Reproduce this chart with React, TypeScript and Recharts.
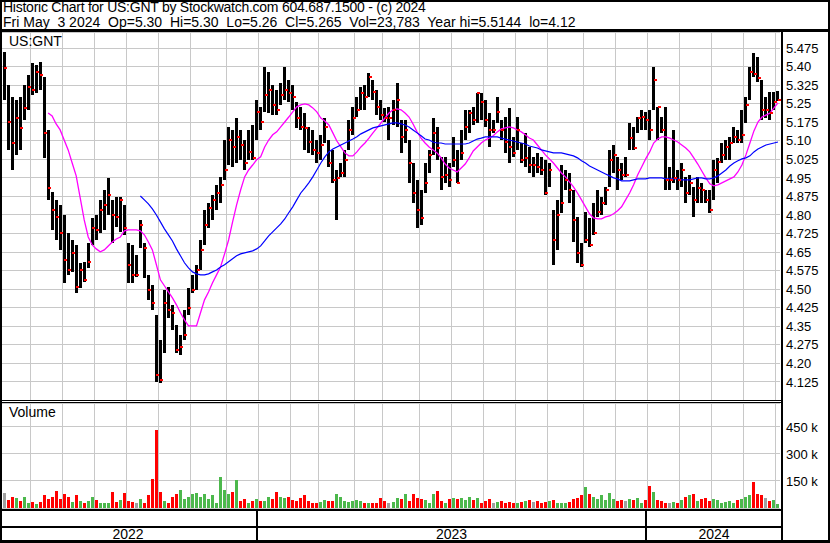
import React from 'react'
import { ComposedChart, BarChart, Bar, Line, Scatter, XAxis, YAxis, CartesianGrid, ReferenceLine } from 'recharts'

const FONT = '"Liberation Sans", Arial, sans-serif'
const GRID = '#c8c8c8'

// one slot = roughly two trading days, May 2022 -> May 3 2024
const hi = [
  5.459, 5.326, 5.277, 5.265, 5.277, 5.326, 5.366, 5.415, 5.406, 5.419,
  5.358, 5.144, 4.893, 4.861, 4.841, 4.800, 4.728, 4.699, 4.679, 4.607,
  4.611, 4.687, 4.788, 4.800, 4.861, 4.901, 4.950, 4.861, 4.873, 4.873,
  4.841, 4.687, 4.679, 4.639, 4.780, 4.687, 4.558, 4.518, 4.396, 4.295,
  4.497, 4.510, 4.437, 4.356, 4.316, 4.417, 4.505, 4.558, 4.599, 4.699,
  4.821, 4.849, 4.881, 4.922, 4.954, 5.103, 5.156, 5.144, 5.192, 5.144,
  5.103, 5.144, 5.164, 5.265, 5.237, 5.398, 5.378, 5.326, 5.305, 5.334,
  5.398, 5.346, 5.326, 5.257, 5.237, 5.212, 5.156, 5.144, 5.103, 5.124,
  5.192, 5.103, 5.063, 4.982, 5.010, 5.063, 5.184, 5.237, 5.277, 5.318,
  5.326, 5.374, 5.346, 5.305, 5.265, 5.233, 5.237, 5.265, 5.334, 5.184,
  5.184, 5.103, 5.010, 4.942, 4.901, 5.010, 5.063, 5.192, 5.156, 5.035,
  5.035, 5.010, 5.116, 5.063, 5.144, 5.225, 5.225, 5.237, 5.293, 5.293,
  5.265, 5.212, 5.184, 5.277, 5.184, 5.196, 5.233, 5.116, 5.196, 5.091,
  5.132, 5.075, 5.035, 5.051, 5.035, 5.023, 5.010, 4.821, 4.861, 5.002,
  4.982, 4.970, 4.901, 4.792, 4.687, 4.813, 4.788, 4.849, 4.901, 4.873,
  4.914, 5.063, 5.083, 5.035, 5.010, 5.035, 5.172, 5.156, 5.196, 5.225,
  5.217, 5.225, 5.398, 5.237, 5.196, 5.237, 4.994, 5.144, 4.982, 5.010,
  4.954, 4.962, 4.914, 4.954, 4.930, 4.901, 4.901, 5.023, 5.031, 5.091,
  5.103, 5.116, 5.156, 5.144, 5.225, 5.277, 5.398, 5.455, 5.439, 5.346,
  5.277, 5.297, 5.297, 5.30,
]

const lo = [
  5.265, 5.063, 4.982, 5.043, 5.063, 5.184, 5.225, 5.285, 5.293, 5.305,
  5.031, 4.861, 4.740, 4.699, 4.659, 4.526, 4.558, 4.570, 4.485, 4.505,
  4.530, 4.586, 4.679, 4.699, 4.728, 4.740, 4.800, 4.687, 4.752, 4.732,
  4.720, 4.526, 4.526, 4.550, 4.667, 4.546, 4.457, 4.417, 4.126, 4.122,
  4.243, 4.384, 4.336, 4.243, 4.235, 4.295, 4.396, 4.485, 4.497, 4.578,
  4.679, 4.748, 4.780, 4.821, 4.849, 4.942, 5.002, 4.994, 5.010, 5.023,
  4.982, 5.023, 5.023, 5.103, 5.144, 5.217, 5.212, 5.204, 5.204, 5.245,
  5.265, 5.257, 5.225, 5.152, 5.144, 5.063, 5.051, 5.043, 5.010, 5.023,
  5.091, 4.994, 4.930, 4.780, 4.954, 4.954, 5.063, 5.124, 5.196, 5.225,
  5.225, 5.277, 5.265, 5.204, 5.184, 5.176, 5.103, 5.164, 5.156, 5.051,
  5.091, 4.930, 4.849, 4.748, 4.760, 4.889, 4.970, 5.043, 5.023, 4.901,
  4.930, 4.914, 4.994, 4.930, 5.023, 5.103, 5.132, 5.164, 5.172, 5.184,
  5.156, 5.075, 5.132, 5.172, 5.103, 5.051, 5.010, 5.035, 5.063, 5.010,
  4.994, 4.970, 4.954, 4.970, 4.962, 4.881, 4.914, 4.599, 4.659, 4.809,
  4.901, 4.849, 4.691, 4.607, 4.590, 4.687, 4.671, 4.720, 4.792, 4.800,
  4.841, 4.914, 4.970, 4.901, 4.942, 4.954, 5.063, 5.063, 5.132, 5.144,
  5.144, 5.103, 5.225, 5.103, 5.132, 4.901, 4.901, 4.930, 4.901, 4.914,
  4.849, 4.881, 4.792, 4.849, 4.849, 4.849, 4.809, 4.861, 4.930, 5.010,
  5.023, 5.023, 5.091, 5.091, 5.091, 5.172, 5.265, 5.358, 5.338, 5.184,
  5.192, 5.184, 5.225, 5.26,
]

const close = [
  5.394, 5.176, 5.091, 5.192, 5.152, 5.233, 5.318, 5.305, 5.378, 5.366,
  5.132, 4.909, 4.821, 4.792, 4.728, 4.619, 4.578, 4.647, 4.510, 4.578,
  4.538, 4.611, 4.748, 4.740, 4.821, 4.841, 4.881, 4.800, 4.792, 4.861,
  4.748, 4.599, 4.558, 4.558, 4.760, 4.667, 4.497, 4.445, 4.154, 4.134,
  4.445, 4.417, 4.405, 4.255, 4.267, 4.316, 4.425, 4.497, 4.578, 4.659,
  4.760, 4.829, 4.861, 4.889, 4.922, 4.982, 5.103, 5.075, 5.116, 5.083,
  5.010, 5.055, 5.031, 5.217, 5.176, 5.285, 5.305, 5.245, 5.225, 5.285,
  5.305, 5.293, 5.277, 5.192, 5.156, 5.152, 5.095, 5.063, 5.051, 5.083,
  5.156, 5.010, 4.942, 4.950, 4.970, 5.023, 5.144, 5.192, 5.225, 5.293,
  5.277, 5.358, 5.297, 5.237, 5.204, 5.192, 5.192, 5.225, 5.265, 5.116,
  5.144, 5.010, 4.889, 4.821, 4.788, 4.930, 5.043, 5.132, 5.071, 4.954,
  4.962, 4.942, 5.023, 4.930, 5.051, 5.156, 5.212, 5.184, 5.293, 5.257,
  5.184, 5.144, 5.144, 5.217, 5.144, 5.095, 5.075, 5.051, 5.144, 5.023,
  5.031, 5.002, 5.002, 4.994, 4.982, 4.889, 4.982, 4.699, 4.800, 4.849,
  4.942, 4.901, 4.780, 4.647, 4.599, 4.699, 4.679, 4.728, 4.813, 4.849,
  4.901, 5.023, 5.043, 4.982, 4.962, 4.962, 5.111, 5.071, 5.192, 5.196,
  5.184, 5.144, 5.346, 5.237, 5.144, 4.942, 4.942, 4.950, 4.942, 4.982,
  4.889, 4.930, 4.861, 4.909, 4.901, 4.861, 4.821, 4.982, 5.015, 5.043,
  5.075, 5.091, 5.116, 5.103, 5.124, 5.245, 5.378, 5.37, 5.354, 5.225,
  5.225, 5.212, 5.257, 5.265,
]

// short moving average (magenta)
const maShort = [
  null, null, null, null, null, null, null, null, null, null, null,
  5.212, 5.200, 5.168, 5.144, 5.103, 5.063, 5.010, 4.958, 4.869, 4.780,
  4.711, 4.679, 4.663, 4.651, 4.659, 4.675, 4.691, 4.703, 4.711, 4.736,
  4.740, 4.740, 4.740, 4.736, 4.720, 4.691, 4.659, 4.599, 4.538, 4.514,
  4.489, 4.465, 4.437, 4.405, 4.376, 4.352, 4.352, 4.352, 4.405, 4.457,
  4.489, 4.526, 4.558, 4.590, 4.643, 4.699, 4.772, 4.841, 4.901, 4.954,
  4.982, 5.002, 5.023, 5.035, 5.075, 5.103, 5.124, 5.136, 5.156, 5.176,
  5.196, 5.217, 5.237, 5.245, 5.249, 5.245, 5.233, 5.217, 5.192, 5.180,
  5.164, 5.132, 5.099, 5.075, 5.051, 5.039, 5.039, 5.055, 5.075, 5.091,
  5.111, 5.132, 5.152, 5.172, 5.192, 5.212, 5.225, 5.229, 5.225, 5.212,
  5.196, 5.168, 5.136, 5.111, 5.091, 5.075, 5.063, 5.051, 5.031, 5.006,
  4.990, 4.982, 4.974, 4.990, 5.006, 5.031, 5.059, 5.075, 5.091, 5.103,
  5.111, 5.120, 5.136, 5.148, 5.152, 5.156, 5.152, 5.144, 5.136, 5.124,
  5.111, 5.103, 5.083, 5.063, 5.043, 5.027, 5.010, 4.990, 4.970, 4.954,
  4.934, 4.914, 4.889, 4.861, 4.833, 4.805, 4.788, 4.784, 4.784, 4.792,
  4.796, 4.805, 4.817, 4.833, 4.861, 4.889, 4.922, 4.962, 4.994, 5.027,
  5.055, 5.091, 5.107, 5.116, 5.116, 5.111, 5.103, 5.095, 5.083, 5.071,
  5.055, 5.031, 5.006, 4.978, 4.950, 4.926, 4.918, 4.922, 4.930, 4.938,
  4.946, 4.954, 4.974, 5.002, 5.043, 5.091, 5.140, 5.176, 5.196, 5.204,
  5.212, 5.233, 5.253,
]

// long moving average (blue)
const maLong = [
  null, null, null, null, null, null, null, null, null, null,
  null, null, null, null, null, null, null, null, null, null,
  null, null, null, null, null, null, null, null, null, null,
  null, null, null, null,
  4.877, 4.861, 4.845, 4.825, 4.800, 4.772, 4.744, 4.720, 4.695, 4.663,
  4.635, 4.607, 4.586, 4.570, 4.562, 4.558, 4.558, 4.562, 4.570, 4.578,
  4.590, 4.599, 4.611, 4.623, 4.635, 4.643, 4.647, 4.651, 4.655, 4.663,
  4.675, 4.695, 4.716, 4.732, 4.748, 4.764, 4.784, 4.809, 4.833, 4.861,
  4.889, 4.909, 4.930, 4.954, 4.982, 5.010, 5.035, 5.055, 5.067, 5.075,
  5.083, 5.091, 5.099, 5.107, 5.116, 5.128, 5.136, 5.144, 5.152, 5.156,
  5.160, 5.164, 5.168, 5.172, 5.172, 5.168, 5.164, 5.156, 5.144, 5.132,
  5.120, 5.107, 5.103, 5.095, 5.091, 5.091, 5.087, 5.087, 5.087, 5.087,
  5.087, 5.087, 5.091, 5.099, 5.107, 5.111, 5.116, 5.116, 5.116, 5.116,
  5.111, 5.107, 5.103, 5.099, 5.095, 5.091, 5.087, 5.079, 5.075, 5.071,
  5.063, 5.059, 5.055, 5.051, 5.051, 5.051, 5.047, 5.043, 5.039, 5.031,
  5.019, 5.010, 4.998, 4.990, 4.982, 4.974, 4.966, 4.958, 4.950, 4.946,
  4.938, 4.938, 4.938, 4.942, 4.946, 4.946, 4.946, 4.950, 4.950, 4.950,
  4.950, 4.946, 4.946, 4.946, 4.946, 4.942, 4.942, 4.942, 4.946, 4.950,
  4.950, 4.946, 4.946, 4.950, 4.958, 4.970, 4.982, 4.998, 5.010, 5.019,
  5.027, 5.031, 5.039, 5.055, 5.067, 5.075, 5.083, 5.087, 5.091, 5.095,
]

// volume in thousands of shares
const volK = [
  85, 45, 60, 55, 40, 60, 25, 35, 20, 35,
  70, 50, 60, 95, 50, 75, 60, 35, 70, 40,
  25, 40, 60, 45, 30, 25, 25, 90, 35, 45,
  85, 40, 35, 30, 50, 30, 70, 160, 433, 90,
  40, 30, 60, 80, 100, 50, 60, 80, 85, 60,
  80, 50, 70, 30, 170, 100, 80, 90, 155, 40,
  50, 30, 40, 50, 40, 40, 60, 50, 90, 60,
  55, 60, 45, 40, 55, 70, 40, 25, 30, 35,
  45, 40, 40, 75, 60, 40, 35, 40, 45, 40,
  30, 25, 25, 30, 55, 40, 30, 35, 55, 50,
  75, 40, 80, 55, 50, 45, 30, 80, 95, 40,
  30, 50, 55, 50, 55, 45, 60, 45, 55, 30,
  40, 50, 25, 35, 40, 30, 35, 30, 25, 35,
  40, 45, 35, 40, 30, 35, 40, 45, 30, 25,
  30, 35, 50, 55, 70, 115, 80, 60, 50, 70,
  45, 85, 50, 40, 45, 40, 50, 45, 55, 30,
  45, 120, 90, 45, 40, 30, 25, 35, 30, 45,
  60, 70, 80, 40, 50, 55, 40, 50, 45, 30,
  35, 40, 30, 45, 50, 60, 70, 145, 80, 70,
  55, 40, 45, 24,
]

// slots where a new month starts (Jun 2022 ... May 2024)
const monthStarts = [7, 15, 23, 31, 39, 47, 56, 64, 72, 79, 88, 95, 104, 112, 120, 128, 136, 145, 153, 161, 169, 177, 185, 193]

const priceTicks = [4.125, 4.2, 4.275, 4.35, 4.425, 4.5, 4.575, 4.65, 4.725, 4.8, 4.875, 4.95, 5.025, 5.1, 5.175, 5.25, 5.325, 5.4, 5.475]
const volTicks = [150000, 300000, 450000]

const years = [
  { label: '2022', left: 0, width: 256 },
  { label: '2023', left: 258, width: 387 },
  { label: '2024', left: 647, width: 134 },
]

const priceData = hi.map((h, i) => ({
  slot: i,
  range: [lo[i], h],
  close: close[i],
  maShort: maShort[i],
  maLong: maLong[i],
}))

const volData = volK.map((v, i) => {
  const prev = i > 0 ? close[i - 1] : close[i]
  const color = close[i] > prev ? '#4cb84c' : close[i] < prev ? '#ff0000' : '#a0a0a0'
  return { slot: i, vol: v * 1000, color }
})

const fmtPrice = (v: number) => (Math.round(v * 1000) % 10 === 0 ? v.toFixed(2) : v.toFixed(3))

const OhlcBar = (p: any) => {
  const top = Math.round(Math.min(p.y, p.y + p.height))
  const h = Math.max(Math.round(Math.abs(p.height)), 1)
  return <rect x={Math.round(p.x + p.width / 2 - 1.5)} y={top} width={3} height={h} fill="#000" shapeRendering="crispEdges" />
}

const CloseTick = (p: any) => (
  <rect x={Math.round(p.cx)} y={Math.round(p.cy - 1)} width={3} height={2} fill="#ff0000" shapeRendering="crispEdges" />
)

const VolBar = (p: any) => (
  <rect
    x={Math.round(p.x + p.width / 2 - 1.5)}
    y={Math.round(p.y)}
    width={3}
    height={Math.max(Math.round(p.height), 0)}
    fill={p.payload.color}
    shapeRendering="crispEdges"
  />
)

const line = (style: React.CSSProperties) => <div style={{ position: 'absolute', background: '#000', ...style }} />

const text: React.CSSProperties = { position: 'absolute', fontFamily: FONT, fontSize: 14, lineHeight: '15px', color: '#000', whiteSpace: 'pre' }

export default function App() {
  const tick = { fill: '#000', fontSize: 13, fontFamily: FONT }
  return (
    <div style={{ position: 'absolute', left: 0, top: 0, width: 830, height: 543, background: '#fff', overflow: 'hidden' }}>
      <div style={{ ...text, left: 3, top: 0, letterSpacing: -0.25 }}>Historic Chart for US:GNT by Stockwatch.com 604.687.1500 - (c) 2024</div>
      <div style={{ ...text, left: 3, top: 15 }}>Fri May  3 2024  Op=5.30  Hi=5.30  Lo=5.26  Cl=5.265  Vol=23,783  Year hi=5.5144  lo=4.12</div>

      <div style={{ position: 'absolute', left: 0, top: 0 }}>
        <ComposedChart width={830} height={543} data={priceData} margin={{ top: 32, right: 2, bottom: 143, left: 2 }} barCategoryGap={0}>
          <CartesianGrid vertical={false} stroke={GRID} shapeRendering="crispEdges" />
          <XAxis dataKey="slot" type="category" hide />
          <YAxis
            orientation="right"
            domain={[4.0522, 5.5397]}
            ticks={priceTicks}
            interval={0}
            width={48}
            allowDataOverflow
            tickLine={false}
            axisLine={false}
            tickSize={0}
            tickMargin={6}
            tick={tick}
            tickFormatter={fmtPrice}
          />
          {monthStarts.map((s) => (
            <ReferenceLine key={'p' + s} x={s} stroke={GRID} position="start" shapeRendering="crispEdges" />
          ))}
          <Bar dataKey="range" shape={OhlcBar} isAnimationActive={false} />
          <Scatter dataKey="close" shape={CloseTick} isAnimationActive={false} />
          <Line dataKey="maShort" stroke="#ff00ff" strokeWidth={1.3} dot={false} isAnimationActive={false} />
          <Line dataKey="maLong" stroke="#0000ff" strokeWidth={1.2} dot={false} isAnimationActive={false} />
        </ComposedChart>
      </div>

      <div style={{ position: 'absolute', left: 0, top: 0 }}>
        <BarChart width={830} height={543} data={volData} margin={{ top: 403, right: 2, bottom: 35, left: 2 }} barCategoryGap={0}>
          <CartesianGrid vertical={false} stroke={GRID} shapeRendering="crispEdges" />
          <XAxis dataKey="slot" type="category" hide />
          <YAxis
            orientation="right"
            domain={[0, 583333]}
            ticks={volTicks}
            interval={0}
            width={48}
            allowDataOverflow
            tickLine={false}
            axisLine={false}
            tickSize={0}
            tickMargin={6}
            tick={tick}
            tickFormatter={(v: number) => `${v / 1000} k`}
          />
          {monthStarts.map((s) => (
            <ReferenceLine key={'v' + s} x={s} stroke={GRID} position="start" shapeRendering="crispEdges" />
          ))}
          <Bar dataKey="vol" shape={VolBar} isAnimationActive={false} />
        </BarChart>
      </div>

      <div style={{ ...text, left: 9, top: 34 }}>US:GNT</div>
      <div style={{ ...text, left: 9, top: 405 }}>Volume</div>

      {/* frame */}
      {line({ left: 0, top: 0, width: 830, height: 2 })}
      {line({ left: 0, top: 29, width: 830, height: 3 })}
      {line({ left: 0, top: 0, width: 2, height: 543 })}
      {line({ left: 828, top: 0, width: 2, height: 543 })}
      {line({ left: 0, top: 540, width: 830, height: 3 })}
      {line({ left: 781, top: 31, width: 2, height: 510 })}
      {line({ left: 0, top: 400, width: 782, height: 1 })}
      {line({ left: 0, top: 402, width: 782, height: 1 })}
      {line({ left: 0, top: 509, width: 782, height: 2 })}
      {line({ left: 0, top: 526, width: 782, height: 2 })}
      {line({ left: 256, top: 510, width: 2, height: 31 })}
      {line({ left: 645, top: 510, width: 2, height: 31 })}
      {years.map((y) => (
        <div key={y.label} style={{ ...text, left: y.left, top: 527, width: y.width, textAlign: 'center' }}>
          {y.label}
        </div>
      ))}
    </div>
  )
}
